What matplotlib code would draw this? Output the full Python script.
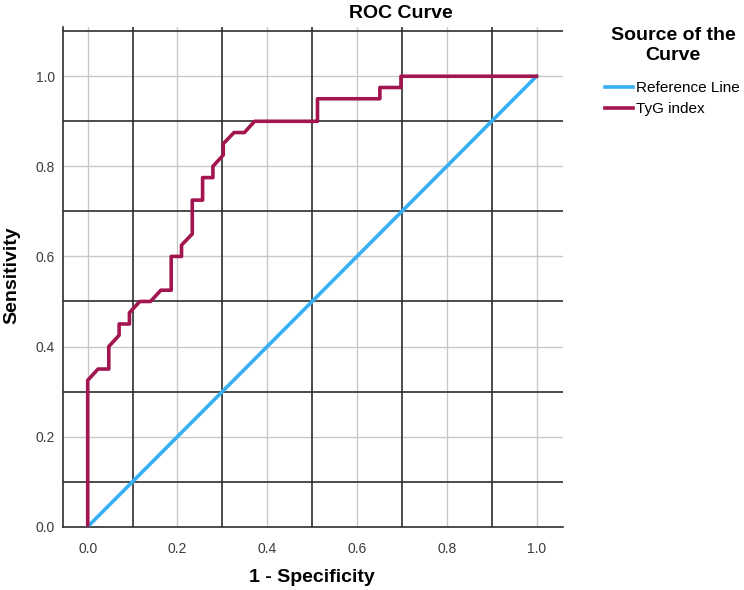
import matplotlib.pyplot as plt

plt.rcParams['font.family'] = ['Liberation Sans', 'DejaVu Sans']

# ROC points (1 - specificity, sensitivity)
fpr = [0.0, 0.0, 0.023, 0.047, 0.047, 0.070, 0.070, 0.093, 0.093, 0.116,
       0.140, 0.163, 0.186, 0.186, 0.209, 0.209, 0.233, 0.233, 0.256, 0.256,
       0.279, 0.279, 0.302, 0.302, 0.326, 0.349, 0.372, 0.512, 0.512, 0.651,
       0.651, 0.698, 0.698, 1.0]
tpr = [0.0, 0.325, 0.35, 0.35, 0.40, 0.425, 0.45, 0.45, 0.475, 0.50,
       0.50, 0.525, 0.525, 0.60, 0.60, 0.625, 0.65, 0.725, 0.725, 0.775,
       0.775, 0.80, 0.825, 0.85, 0.875, 0.875, 0.90, 0.90, 0.95, 0.95,
       0.975, 0.975, 1.0, 1.0]
ref_x = [0.0, 1.0]
ref_y = [0.0, 1.0]

tick_vals = [0.0, 0.2, 0.4, 0.6, 0.8, 1.0]
minor_vals = [0.1, 0.3, 0.5, 0.7, 0.9]
y_minor_vals = [0.1, 0.3, 0.5, 0.7, 0.9, 1.1]

fig = plt.figure(figsize=(7.44, 5.9), dpi=100)
ax = fig.add_axes([0.0847, 0.1073, 0.672, 0.8467])

ax.set_xlim(-0.055, 1.059)
ax.set_ylim(0.0, 1.109)

# grid: light grey at labelled ticks, dark at the in-between values
for v in tick_vals:
    ax.axvline(v, color='#c8c8c8', lw=1.0, zorder=1)
    if v > 0:
        ax.axhline(v, color='#c8c8c8', lw=1.0, zorder=1)
for v in minor_vals:
    ax.axvline(v, color='#2e2e2e', lw=1.2, zorder=1.5)
for v in y_minor_vals:
    ax.axhline(v, color='#2e2e2e', lw=1.2, zorder=1.5)

ax.plot(ref_x, ref_y, color='#36aff5', lw=2.6, label='Reference Line', zorder=3)
ax.plot(fpr, tpr, color='#a3154f', lw=2.6, label='TyG index', zorder=3)

ax.set_xticks(tick_vals)
ax.set_yticks(tick_vals)
ax.set_xticklabels([f'{v:.1f}' for v in tick_vals])
ax.set_yticklabels([f'{v:.1f}' for v in tick_vals])
ax.tick_params(length=0, labelsize=10, colors='#3c3c3c')
ax.tick_params(axis='x', pad=11)
ax.tick_params(axis='y', pad=6)

for s in ['top', 'right']:
    ax.spines[s].set_visible(False)
for s in ['left', 'bottom']:
    ax.spines[s].set_color('#2e2e2e')
    ax.spines[s].set_linewidth(1.2)

fig.text(401 / 744, 1 - 13 / 590, 'ROC Curve', ha='center', va='center',
         fontsize=14, fontweight='bold')
fig.text(312 / 744, 1 - 577 / 590, '1 - Specificity', ha='center', va='center',
         fontsize=14, fontweight='bold')
fig.text(12 / 744, 1 - 275 / 590, 'Sensitivity', ha='center', va='center',
         fontsize=14, fontweight='bold', rotation=90)

# legend title drawn separately so it can sit centred above the entries
fig.text(673 / 744, 1 - 45.5 / 590, 'Source of the\nCurve', ha='center',
         va='center', fontsize=14, fontweight='bold', linespacing=1.2)
fig.legend(loc='upper left', bbox_to_anchor=(605 / 744, 1 - 81 / 590),
           frameon=False, fontsize=11, handlelength=1.8,
           handletextpad=0.2, labelspacing=0.45, borderaxespad=0,
           borderpad=0)

fig.savefig('out.png', dpi=100)
